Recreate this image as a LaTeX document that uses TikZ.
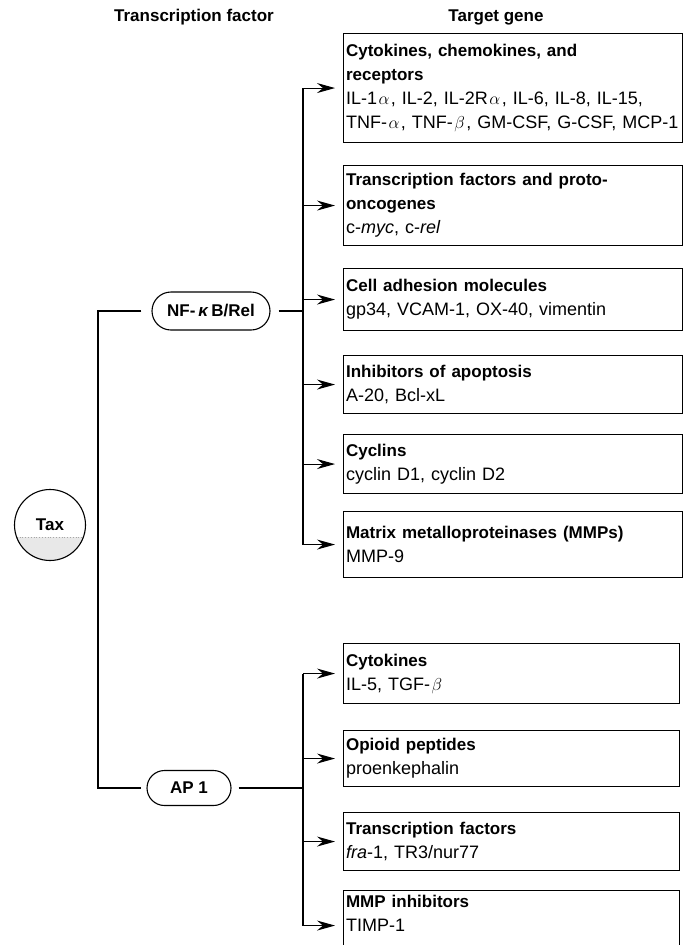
\documentclass[tikz,border=0pt]{standalone}
\usepackage{fontspec}
\setmainfont{Liberation Sans}
\usetikzlibrary{arrows.meta,shapes.misc}
\newcommand\hdtxt[1]{{\fontsize{17}{24}\selectfont\bfseries #1}}
\newcommand\gsp{\hspace{1.5pt}}
\begin{document}
\begin{tikzpicture}[x=1pt,y=-1pt,line width=1.1pt,
  box/.style={draw,line width=1.1pt,anchor=north west,minimum width=339pt,text width=334pt,
    inner xsep=2.5pt,inner ysep=0pt,align=left,font=\fontsize{18}{24}\selectfont},
  boxb/.style={box,minimum width=336pt,text width=331pt},
  pill/.style={draw,rounded rectangle,line width=1.1pt,inner sep=0pt,font=\fontsize{17}{20}\selectfont\bfseries},
  hdr/.style={font=\fontsize{17}{20}\selectfont\bfseries,inner sep=0pt},
  arr/.style={-{Stealth[length=18pt,width=10pt,inset=6pt]},line width=1.1pt,shorten >=8pt},
  conn/.style={line width=1.1pt}]
\clip (0,0) rectangle (688,945);
\fill[white] (0,0) rectangle (688,945);
% headers
\node[hdr] (h1) at (194,17) {Transcription factor};
\node[hdr] (h2) at (496,17) {Target gene};
% NF-kB target boxes
\node[box,minimum height=109pt] (b1) at (343,33) {\hdtxt{Cytokines, chemokines, and\\receptors}\\IL-1\gsp$\alpha$\gsp, IL-2, IL-2R\gsp$\alpha$\gsp, IL-6, IL-8, IL-15,\\\mbox{TNF-\gsp$\alpha$\gsp, TNF-\gsp$\beta$\gsp, GM-CSF, G-CSF, MCP-1}};
\node[box,minimum height=80pt] (b2) at (343,165) {\hdtxt{Transcription factors and proto-\\oncogenes}\\c-\textit{myc}, c-\textit{rel}};
\node[box,minimum height=62pt] (b3) at (343,268) {\hdtxt{Cell adhesion molecules}\\gp34, VCAM-1, OX-40, vimentin};
\node[box,minimum height=58pt] (b4) at (343,355) {\hdtxt{Inhibitors of apoptosis}\\A-20, Bcl-xL};
\node[box,minimum height=59pt] (b5) at (343,434) {\hdtxt{Cyclins}\\cyclin D1, cyclin D2};
\node[box,minimum height=66pt] (b6) at (343,511) {\hdtxt{Matrix metalloproteinases (MMPs)}\\MMP-9};
% AP1 target boxes
\node[boxb,minimum height=60pt] (c1) at (343,643) {\hdtxt{Cytokines}\\IL-5, TGF-\gsp$\beta$};
\node[boxb,minimum height=56pt] (c2) at (343,730) {\hdtxt{Opioid peptides}\\proenkephalin};
\node[boxb,minimum height=58pt] (c3) at (343,812) {\hdtxt{Transcription factors}\\\textit{fra}-1, TR3/nur77};
\node[boxb,minimum height=70pt] (c4) at (343,890) {\hdtxt{MMP inhibitors}\\TIMP-1\\\mbox{}};
% transcription factors
\node[pill,minimum width=118pt,minimum height=38pt] (nf) at (211,311) {NF-\,\textit{κ}\,B/Rel};
\node[pill,minimum width=84pt,minimum height=35pt] (ap) at (189,788) {AP 1};
% Tax
\begin{scope}
  \clip (50,525) circle (35.5pt);
  \fill[gray!18] (0,537) rectangle (100,570);
  \draw[gray!70,line width=0.8pt,dotted] (0,537) -- (100,537);
\end{scope}
\node[draw,circle,minimum size=71pt,inner sep=0pt,line width=1.1pt,font=\fontsize{17}{20}\selectfont\bfseries] (tax) at (50,525) {Tax};
% connectors
\coordinate (taxbr) at (98,525);
\coordinate (nfbr) at (303,311);
\coordinate (apbr) at (303,788);
\draw[conn,shorten <=10pt,shorten >=5pt] (nf.west) -- (taxbr |- nf.west) -- (taxbr |- ap.west) -- (ap.west);
\draw[conn,shorten <=8pt] (nf.east) -- (nfbr);
\draw[conn,shorten <=7pt] (ap.east) -- (apbr);
\draw[conn] (nfbr |- b1.west) -- (nfbr |- b6.west);
\draw[conn] (apbr |- c1.west) -- (apbr |- c4.west);
\foreach \b in {b1,b2,b3,b4,b5,b6} \draw[arr] (nfbr |- \b.west) -- (\b.west);
\foreach \b in {c1,c2,c3,c4} \draw[arr] (apbr |- \b.west) -- (\b.west);
\end{tikzpicture}
\end{document}
